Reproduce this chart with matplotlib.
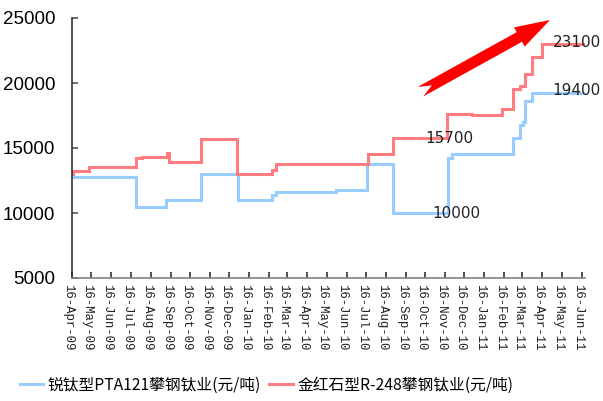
import numpy as np
import pandas as pd
import matplotlib
matplotlib.use("Agg")
import matplotlib.pyplot as plt
import matplotlib.dates as mdates
from matplotlib.patches import Polygon
from matplotlib.transforms import ScaledTranslation

# 金红石型R-248 (红线) 价格变动日期和价格
fechas_rojo = ["2009-04-16", "2009-04-18", "2009-05-12", "2009-07-25", "2009-08-02",
               "2009-09-11", "2009-09-14", "2009-11-02", "2009-12-28", "2010-02-20",
               "2010-02-26", "2010-07-19", "2010-08-27", "2010-11-19", "2010-12-27",
               "2011-02-12", "2011-03-02", "2011-03-12", "2011-03-20", "2011-03-30",
               "2011-04-15", "2011-06-21"]
precio_rojo = [13000, 13200, 13500, 14200, 14300,
               14600, 13900, 15700, 13000, 13300,
               13800, 14500, 15800, 17600, 17500,
               18000, 19500, 19800, 20700, 22000,
               23000, 23000]

# 锐钛型PTA121 (蓝线)
fechas_azul = ["2009-04-16", "2009-07-25", "2009-09-09", "2009-11-02", "2009-12-29",
               "2010-02-20", "2010-02-26", "2010-05-30", "2010-07-18", "2010-08-27",
               "2010-11-20", "2010-11-27", "2011-03-02", "2011-03-12", "2011-03-17",
               "2011-03-20", "2011-03-31", "2011-06-21"]
precio_azul = [12800, 10500, 11000, 13000, 11000,
               11400, 11600, 11800, 13800, 10000,
               14200, 14500, 15800, 16800, 17000,
               18600, 19200, 19200]

etiqueta_azul = "锐钛型PTA121攀钢钛业(元/吨)"
etiqueta_rojo = "金红石型R-248攀钢钛业(元/吨)"

# etiquetas de valores: (fecha, valor, texto)
anotaciones = [("2011-05-02", 23100, "23100"),
               ("2011-05-02", 19400, "19400"),
               ("2010-10-16", 15700, "15700"),
               ("2010-10-27", 10000, "10000")]

fig = plt.figure(figsize=(6.03, 4.01), dpi=100)
ax = fig.add_axes([72 / 603, 1 - 278 / 401, (585 - 72) / 603, (278 - 18) / 401])

ax.plot(pd.to_datetime(fechas_azul), precio_azul, drawstyle="steps-post",
        color="#99CCFF", lw=2.2, label=etiqueta_azul, solid_joinstyle="miter")
ax.plot(pd.to_datetime(fechas_rojo), precio_rojo, drawstyle="steps-post",
        color="#FF7C80", lw=2.2, label=etiqueta_rojo, solid_joinstyle="miter")

for f, v, t in anotaciones:
    ax.text(pd.Timestamp(f), v, t, fontsize=11, family="DejaVu Sans",
            color="#222222", va="center", ha="left")

ax.set_xlim(pd.Timestamp("2009-04-16"), pd.Timestamp("2011-06-21"))
ax.set_ylim(5000, 25000)
ax.set_yticks([5000, 10000, 15000, 20000, 25000])

ax.xaxis.set_major_locator(mdates.MonthLocator(bymonthday=16))
ax.xaxis.set_major_formatter(mdates.DateFormatter("%d-%b-%y"))

for s in ["top", "right"]:
    ax.spines[s].set_visible(False)
ax.spines["left"].set_color("#333333")
ax.spines["bottom"].set_color("#808080")
ax.spines["left"].set_linewidth(1.2)
ax.spines["bottom"].set_linewidth(1.2)

ax.tick_params(axis="y", direction="in", length=4, width=1.2, color="#555555",
               pad=12, labelsize=13.5)
ax.tick_params(axis="x", direction="in", length=4, width=1.2, color="#333333",
               pad=4)
for lbl in ax.get_yticklabels():
    lbl.set_family("Liberation Sans")

desplazamiento = ScaledTranslation(-0.04, 0, fig.dpi_scale_trans)
for lbl in ax.get_xticklabels():
    lbl.set_rotation(-90)
    lbl.set_family("Liberation Mono")
    lbl.set_fontsize(8.9)
    lbl.set_color("#222222")
    lbl.set_transform(lbl.get_transform() + desplazamiento)

# flecha roja (en pixeles de la figura, y hacia abajo)
cola = np.array([420.5, 91.7])
punta = np.array([550.0, 20.0])
d = punta - cola
largo = np.hypot(*d)
d = d / largo
n = np.array([d[1], -d[0]])  # perpendicular hacia arriba en pantalla
ancho, ancho_cabeza, largo_cabeza, muesca = 5.5, 11.0, 35.0, 13.0
local = [(0, ancho), (largo - largo_cabeza, ancho), (largo - largo_cabeza, ancho_cabeza),
         (largo, 0), (largo - largo_cabeza, -ancho_cabeza), (largo - largo_cabeza, -ancho),
         (0, -ancho), (muesca, 0)]
pts = [cola + u * d + v * n for u, v in local]
pts = [(p[0] / 603, 1 - p[1] / 401) for p in pts]
fig.add_artist(Polygon(pts, closed=True, transform=fig.transFigure,
                       facecolor="#FF0000", edgecolor="none"))

fig.legend(loc="center", bbox_to_anchor=(0.442, 0.04), ncol=2, frameon=False,
           handlelength=1.5, handletextpad=0.3, columnspacing=0.5,
           prop={"family": ["Noto Sans CJK SC", "DejaVu Sans"], "size": 11.3})

fig.savefig("out.png", dpi=100)
